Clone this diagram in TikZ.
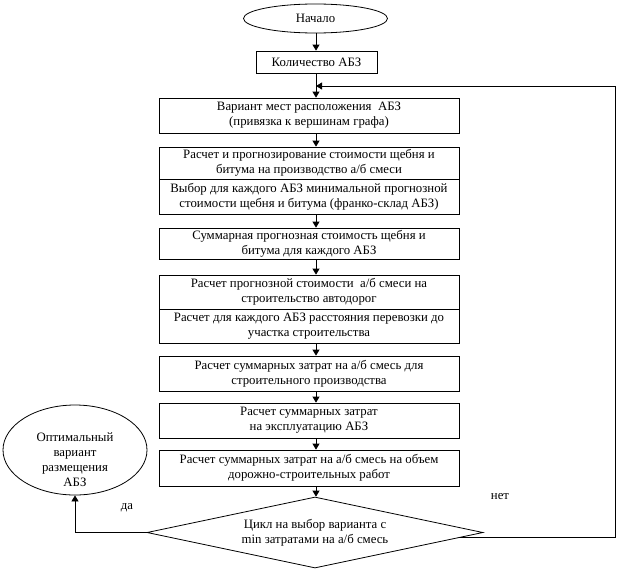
\documentclass[tikz,border=0pt]{standalone}
\usepackage{fontspec}
\setmainfont{Liberation Serif}
\usetikzlibrary{shapes.geometric,arrows.meta}

\begin{document}
\begin{tikzpicture}[x=1pt,y=-1pt,
	every node/.style={font=\fontsize{12.8}{15}\selectfont},
	blok/.style={draw,line width=0.8pt,minimum width=300pt,inner sep=0pt,align=center},
	oval/.style={draw,ellipse,line width=0.8pt,inner sep=0pt},
	strelka/.style={line width=0.8pt,-{Triangle[length=6pt,width=7pt]}}]
			\useasboundingbox (0,0) rectangle (639,573);
			\coordinate (os) at (316,0);
			\node[oval,minimum width=144pt,minimum height=29pt] (nach) at (315.5,18.5) {Начало};
			\node[blok,minimum width=121pt,minimum height=22pt] (kol) at (316.5,62) {Количество АБЗ};
			\node[blok,minimum height=35pt] (var) at (309,115.5) {Вариант мест расположения \ АБЗ\\(привязка к вершинам графа)};
			\node[blok,minimum height=32pt] (ras) at (309,163) {Расчет и прогнозирование стоимости щебня и\\битума на производство а/б смеси};
			\node[blok,minimum height=35pt] (vyb) at (309,196.5) {Выбор для каждого АБЗ минимальной прогнозной\\стоимости щебня и битума (франко-склад АБЗ)};
			\node[blok,minimum height=31pt] (summ) at (309,243.5) {Суммарная прогнозная стоимость щебня и\\битума для каждого АБЗ};
			\node[blok,minimum height=34pt] (prog) at (309,292) {Расчет прогнозной стоимости \ а/б смеси на\\строительство автодорог};
			\node[blok,minimum height=34pt] (perev) at (309,326) {Расчет для каждого АБЗ расстояния перевозки до\\участка строительства};
			\node[blok,minimum height=35pt] (zatr) at (309,373.5) {Расчет суммарных затрат на а/б смесь для\\строительного производства};
			\node[blok,minimum height=35pt] (ekspl) at (309,420.5) {Расчет суммарных затрат\\на эксплуатацию АБЗ};
			\node[blok,minimum height=36pt] (obem) at (309,468) {Расчет суммарных затрат на а/б смесь на объем\\дорожно-строительных работ};
			\node[draw,diamond,aspect=4.7,minimum width=336pt,minimum height=71pt,inner sep=0pt,line width=0.8pt,align=center] (cikl) at (315,532.5) {Цикл на выбор варианта с\\min затратами на а/б смесь};
			\node[oval,minimum width=144pt,minimum height=90pt] (opt) at (75,450) {};
			\node[align=center] (opttxt) at (75,460) {Оптимальный\\вариант\\размещения\\АБЗ};
			\node (da) at (127,508) {да};
			\node (net) at (500,497) {нет};
			\coordinate (rt) at (615,86);
			\coordinate (vh) at (316,86);
			\draw[strelka] (nach.south -| os) -- (kol.north -| os);
			\draw[strelka] (kol.south -| os) -- (var.north -| os);
			\foreach \a/\b in {var/ras,vyb/summ,summ/prog,perev/zatr,zatr/ekspl,ekspl/obem,obem/cikl}
				\draw[strelka] (\a.south -| os) -- (\b.north -| os);
			\draw[strelka] (cikl.west) -| (opt.south);
			\draw[strelka] (cikl.-2.2) -| (rt) -- (vh);
		\end{tikzpicture}
\end{document}
